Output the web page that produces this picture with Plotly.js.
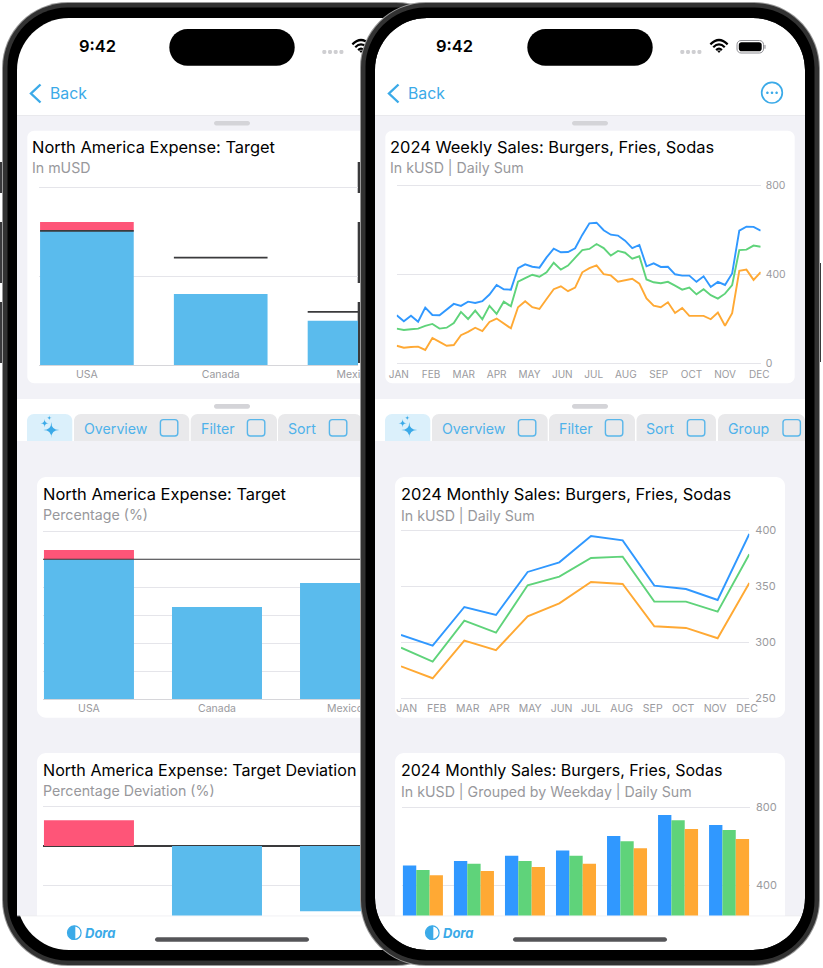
<!DOCTYPE html>
<html><head><meta charset="utf-8">
<script src="https://cdn.plot.ly/plotly-3.0.1.min.js"></script>
<style>html,body{margin:0;padding:0;background:#fff;overflow:hidden}#c{width:823px;height:968px}</style>
</head><body><div id="c"></div>
<script>
const W=823,H=968;
const BURGER='#3098FF',FRIES='#5FD37A',SODA='#FFA934',SKY='#5ABBED',PINK='#FE5578',INK='#3A3A3C',GRID='#E5E5EA',AXIS='#D6D6DA',TICK='#9A9A9E',LINK='#3BAAE8';
const FONT='Inter, "Noto Sans", sans-serif';

const countries=['USA','Canada','Mexico'];
const expenseWithin=[151,80,50];
const expenseOver=[10,0,0];
const expenseTarget=[151,121,60];
const pctWithin=[100,65.9,83];
const pctOver=[6.6,0,0];
const pctTarget=[100,100];
const pctTargetX=[-0.36,2.12];
const devOver=[6.6,0,0];
const devUnder=[0,-34,-16.7];

const months=['JAN','FEB','MAR','APR','MAY','JUN','JUL','AUG','SEP','OCT','NOV','DEC'];
const weeklyMonthTicks=[0.3,4.8,9.4,14,18.6,23.2,27.6,32.1,36.7,41.3,46,50.8];
const monthlyMonthTicks=[0.18,1.13,2.11,3.11,4.08,5.07,6,6.97,7.95,8.91,9.92,10.93];
const weeklyBurgers=[216,189,214,187,250,217,216,240,267,258,277,271,279,309,352,333,331,428,445,434,430,476,515,499,500,517,577,629,632,598,578,574,551,518,532,436,449,433,434,400,394,394,366,391,343,366,352,404,596,614,613,596];
const weeklyFries=[156,150,153,156,168,177,156,160,181,231,199,237,198,258,222,277,256,367,383,398,389,409,452,421,439,473,509,514,536,518,484,505,497,470,481,377,364,360,366,349,331,340,310,333,306,291,313,352,509,511,529,524];
const weeklySodas=[79,70,73,75,60,114,96,79,82,126,141,160,145,186,201,177,157,252,279,252,244,289,333,346,324,340,409,428,440,401,395,367,372,380,358,292,259,252,274,226,249,213,213,213,198,228,169,225,416,421,375,410];
const monthlyBurgers=[306.5,297,331.5,324.4,362.8,371.4,394.9,391,350.6,347.6,337.8,396.7];
const monthlyFries=[295.2,282.7,319.3,308.6,350.9,358.6,375.3,376.5,336.3,336.3,327.4,378.6];
const monthlySodas=[278.6,267.9,301.5,292.9,323.2,334.8,353.9,352.1,314.3,312.8,303.6,353];
const weekdays=['Mon','Tue','Wed','Thu','Fri','Sat','Sun'];
const weekdayBurgers=[502,525,552,579,653,761,709];
const weekdayFries=[479,511,525,552,626,733,684];
const weekdaySodas=[451,473,494,511,590,689,638];

const seq=n=>Array.from({length:n},(_,i)=>i);
const X=x=>x/W, Y=y=>1-y/H, dx=(a,b)=>[a/W,b/W], dy=(top,bot)=>[1-bot/H,1-top/H];
const pt=(x,y)=>X(x)+' '+Y(y);
function rr(x0,y0,x1,y1,r,tl=1,tr=1,br=1,bl=1){
  const k=r*0.448, a=[];
  a.push('M'+pt(x0+r*tl,y0),'L'+pt(x1-r*tr,y0));
  if(tr)a.push('C'+pt(x1-k,y0)+' '+pt(x1,y0+k)+' '+pt(x1,y0+r));
  a.push('L'+pt(x1,y1-r*br));
  if(br)a.push('C'+pt(x1,y1-k)+' '+pt(x1-k,y1)+' '+pt(x1-r,y1));
  a.push('L'+pt(x0+r*bl,y1));
  if(bl)a.push('C'+pt(x0+k,y1)+' '+pt(x0,y1-k)+' '+pt(x0,y1-r));
  a.push('L'+pt(x0,y0+r*tl));
  if(tl)a.push('C'+pt(x0,y0+k)+' '+pt(x0+k,y0)+' '+pt(x0+r,y0));
  return a.join(' ')+' Z';
}
const shapes=[],ann=[];
function fill(path,color,layer='below'){shapes.push({type:'path',xref:'paper',yref:'paper',path,fillcolor:color,line:{width:0},layer});}
function stroke(path,color,w,fc){shapes.push({type:'path',xref:'paper',yref:'paper',path,fillcolor:fc||'rgba(0,0,0,0)',line:{color,width:w},layer:'below'});}
function txt(text,x,y,size,color,o={}){const left=!o.xanchor;ann.push(Object.assign({text,x:X(left?x-1.5:x),y:Y(y),xref:'paper',yref:'paper',xanchor:'left',yanchor:'middle',showarrow:false,borderpad:0,font:{family:FONT,size,color}},o));}
function star(cx,cy,r,c){fill('M'+pt(cx,cy-r)+' Q'+pt(cx,cy)+' '+pt(cx+r,cy)+' Q'+pt(cx,cy)+' '+pt(cx,cy+r)+' Q'+pt(cx,cy)+' '+pt(cx-r,cy)+' Q'+pt(cx,cy)+' '+pt(cx,cy-r)+' Z',c);}
function circle(cx,cy,r){return rr(cx-r,cy-r,cx+r,cy+r,r);}

function phone(ox,tabs,right){
  const sx0=17+ox,sx1=447+ox;
  // side buttons
  for(const [a,b] of [[162,193],[222,283],[302,363]]) fill(rr(ox-0.3,a,ox+4,b,0,0,0,0,0),'#3A3A3C');
  if(right) fill(rr(ox+458,263,ox+463,362,0,0,0,0,0),'#3A3A3C');
  const body=[rr(2+ox,2,462+ox,966,66),rr(3+ox,3,461+ox,965,65),rr(7.5+ox,7.5,456.5+ox,960.5,60)];
  // body
  const lay=right?'above':'below';
  const hole=' '+rr(sx0,18,sx1,950,52);
  const addBody=(p,c)=>shapes.push({type:'path',xref:'paper',yref:'paper',path:p+(right?hole:''),fillcolor:c,fillrule:'evenodd',line:{width:0},layer:lay});
  addBody(body[0],'#9A9A9A');addBody(body[1],'#323232');addBody(body[2],'#000000');
  // screen
  fill(rr(sx0,18,sx1,950,52),'#FFFFFF');
  fill(rr(sx0,115,sx1,399,0,0,0,0,0),'#F2F2F7');
  fill(rr(sx0,115,sx1,115.7,0,0,0,0,0),'#E6E6EA');
  fill(rr(sx0,441,sx1,915.5,0,0,0,0,0),'#F2F2F7');
  fill(rr(sx0,915.5,sx1,916.2,0,0,0,0,0),'#E6E6EA');
  // island, status
  fill(rr(169.3+ox,29,294.7+ox,65.7,18.3),'#000000');
  txt('9:42',97+ox,46,16.5,'#000',{xanchor:'center',font:{family:FONT,size:16.5,color:'#000',weight:600}});
  for(let i=0;i<4;i++) fill(rr(322.3+ox+i*5.7,50,326.3+ox+i*5.7,54,1.4),'#CFCFD2');
  // wifi
  const wx=361+ox,wy=53;
  for(const [r,w] of [[4,2.2],[8,2.2],[12,2.2]]) shapes.push({type:'path',xref:'paper',yref:'paper',path:'M'+pt(wx-r*0.72,wy-r*0.72)+' Q'+pt(wx,wy-r*1.44)+' '+pt(wx+r*0.72,wy-r*0.72),line:{color:'#000',width:w},layer:'below'});
  fill('M'+pt(wx-2,wy-2.4)+' L'+pt(wx+2,wy-2.4)+' L'+pt(wx,wy)+' Z','#000');
  // battery
  stroke(rr(379+ox,40.5,405.5+ox,53,4),'#8E8E93',1);
  fill(rr(380.8+ox,42.2,403.7+ox,51.3,2.6),'#000');
  fill(rr(406.3+ox,44.8,407.6+ox,48.8,0.6),'#A0A0A4');
  // back
  shapes.push({type:'path',xref:'paper',yref:'paper',path:'M'+pt(40.5+ox,84.5)+' L'+pt(31+ox,93.5)+' L'+pt(40.5+ox,102.5),line:{color:LINK,width:2.4},layer:'below'});
  txt('Back',50.6+ox,94,15.8,LINK);
  // grabbers
  fill(rr(214+ox,121,250+ox,125.4,2.2),'#D4D4D8');
  fill(rr(214+ox,404,250+ox,408.7,2.2),'#D4D4D8');
  // tabs
  fill(rr(27+ox,414,72.3+ox,441,7,1,1,0,0),'#DBF0FB');
  star(51.3+ox,430,8,LINK);star(44.6+ox,423.3,4.2,LINK);star(49.3+ox,417.8,2.6,LINK);
  for(const t of tabs){
    fill(rr(t.a+ox,414,t.b+ox,441,7,1,1,0,0),'#E9E9EB');
    txt(t.s,t.tx+ox,428,14.2,'#4FB2EA');
    stroke(rr(t.cb+ox,419.6,t.cb+17.4+ox,436,3),'#58B6EA',1.4);
  }
  // Dora
  const lx=74.3+ox,ly=932.7;
  stroke(circle(lx,ly,6.8),LINK,1.2,'#FFF');
  fill('M'+pt(lx+1,ly-7)+' L'+pt(lx+1,ly+7)+' C'+pt(lx-9,ly+8)+' '+pt(lx-9,ly-8)+' '+pt(lx+1,ly-7)+' Z',LINK);
  txt('<i><b>Dora</b></i>',85+ox,933,13,LINK);
  fill(rr(155+ox,937.2,309+ox,941.8,2.3),'#555558');
}
function card(x0,y0,x1,y1,r){fill(rr(x0,y0,x1,y1,r),'#FFFFFF');}

// left phone
phone(0,[{a:74,b:189.3,s:'Overview',tx:84,cb:160.4},{a:190.7,b:277,s:'Filter',tx:201,cb:247.4},{a:278,b:362,s:'Sort',tx:288,cb:329.4}],false);
card(27.3,130.7,437,383.3,7);card(37,477,437,717.7,9);fill(rr(37,753,437,915.5,9,1,1,0,0),'#FFF');
// right phone
phone(358,[{a:74,b:189.7,s:'Overview',tx:84,cb:160.4},{a:191,b:277,s:'Filter',tx:201.3,cb:247.4},{a:278.5,b:358,s:'Sort',tx:288.7,cb:329.4},{a:360,b:447,s:'Group',tx:370.3,cb:425}],true);
card(385.3,130.7,794.7,383.3,7);card(395,477,785,717.7,9);fill(rr(395,753,785,915.5,9,1,1,0,0),'#FFF');

// titles
const T='#000',S='#98989C',TS=16.45,SS=14.2;
txt('North America Expense: Target',32,147,TS,T);txt('In mUSD',32,168,SS,S);
txt('North America Expense: Target',43.5,494,TS,T);txt('Percentage (%)',43.5,515,SS,S);
txt('North America Expense: Target Deviation',43.5,770,16.1,T);txt('Percentage Deviation (%)',43.5,791,SS,S);
txt('2024 Weekly Sales: Burgers, Fries, Sodas',390.5,147,TS,T);txt('In kUSD | Daily Sum',390.5,168,SS,S);
txt('2024 Monthly Sales: Burgers, Fries, Sodas',401.5,494,TS,T);txt('In kUSD | Daily Sum',401.5,515,SS,S);
txt('2024 Monthly Sales: Burgers, Fries, Sodas',401.5,770,16,T);txt('In kUSD | Grouped by Weekday | Daily Sum',401.5,791,SS,S);
// ellipsis
stroke(circle(772,92.7,10.3),LINK,1.7);
for(const d of [-4.6,0,4.6]) fill(circle(772+d,92.7,1.3),LINK);

// bars and lines
const traces=[];
function bar(x,y,color,ax,width,offset,base){traces.push({type:'bar',x,y,base,width,offset,marker:{color,line:{width:0}},xaxis:'x'+ax,yaxis:'y'+ax,hoverinfo:'skip'});}
function line(x,y,color,ax,w){traces.push({type:'scatter',mode:'lines',x,y,line:{color,width:w,shape:'linear'},xaxis:'x'+ax,yaxis:'y'+ax,hoverinfo:'skip',cliponaxis:false});}
const idx3=seq(3);
bar(idx3,expenseWithin,SKY,1,0.7,-0.35);
bar(idx3,expenseOver,PINK,1,0.7,-0.35,expenseWithin);
traces.push({type:'scatter',mode:'markers',x:idx3,y:expenseTarget,marker:{size:0.1,color:INK},error_x:{type:'constant',value:0.35,color:INK,thickness:1.8,width:0},xaxis:'x1',yaxis:'y1',hoverinfo:'skip'});
bar(idx3,pctWithin,SKY,2,0.703,-0.3515);
bar(idx3,pctOver,PINK,2,0.703,-0.3515,pctWithin);
traces.push({type:'scatter',mode:'lines',x:pctTargetX,y:pctTarget,line:{color:INK,width:1.1},xaxis:'x2',yaxis:'y2',hoverinfo:'skip'});
bar(idx3,devOver,PINK,3,0.703,-0.3515);
bar(idx3,devUnder,SKY,3,0.703,-0.3515);
const wk=seq(52);
line(wk,weeklyBurgers,BURGER,4,1.9);line(wk,weeklyFries,FRIES,4,1.9);line(wk,weeklySodas,SODA,4,1.9);
const mo=seq(12);
line(mo,monthlyBurgers,BURGER,5,1.9);line(mo,monthlyFries,FRIES,5,1.9);line(mo,monthlySodas,SODA,5,1.9);
const gw=0.2614;
bar(seq(7),weekdayBurgers,BURGER,6,gw,-1.5*gw);
bar(seq(7),weekdayFries,FRIES,6,gw,-0.5*gw);
bar(seq(7),weekdaySodas,SODA,6,gw,0.5*gw);

function xa(domain,range,tickvals,ticktext,anchor,showline,std,fs){return {domain,range,tickmode:'array',tickvals,ticktext,anchor,showgrid:false,zeroline:false,showline:!!showline,linecolor:AXIS,linewidth:1,ticks:'',showticklabels:!!ticktext,ticklabelstandoff:std||0,tickangle:0,fixedrange:true,tickfont:{family:FONT,size:fs||10.5,color:TICK}};}
function ya(domain,range,tickvals,anchor,labels,std,fs){return {domain,range,tickmode:'array',tickvals,ticktext:tickvals.map(String),anchor,side:'right',showgrid:true,gridcolor:GRID,gridwidth:1,zeroline:false,showline:false,ticks:'',showticklabels:!!labels,ticklabelstandoff:std||0,fixedrange:true,tickfont:{family:FONT,size:fs||11,color:TICK}};}

const layout={width:W,height:H,margin:{l:0,r:0,t:0,b:0,pad:0},paper_bgcolor:'#FFFFFF',plot_bgcolor:'rgba(0,0,0,0)',showlegend:false,barmode:'overlay',dragmode:false,hovermode:false,shapes,annotations:ann,font:{family:FONT},
 xaxis:xa(dx(39,358),[-0.358,2.026],idx3,countries,'y',true,-1),
 yaxis:ya(dy(185.3,365.3),[0,202.25],[0,100,200],'x'),
 xaxis2:xa(dx(43,360),[-0.359,2.117],idx3,countries,'y2',true,-1),
 yaxis2:ya(dy(529.3,699.3),[0,121.43],[0,20,40,60,80,100,120],'x2'),
 xaxis3:xa(dx(43,361),[-0.359,2.125],idx3,null,'y3',false),
 yaxis3:Object.assign(ya(dy(805,915.5),[-17.82,10.51],[-10,0,10],'x3'),{zeroline:true,zerolinecolor:INK,zerolinewidth:1.1}),
 xaxis4:xa(dx(396.7,760.7),[0,51],weeklyMonthTicks,months,'y4',false,2,10),
 yaxis4:ya(dy(183.3,365.3),[-8.99,808.99],[0,400,800],'x4',true,4,10.5),
 xaxis5:xa(dx(401,749.3),[0,11],monthlyMonthTicks,months,'y5',false,0),
 yaxis5:ya(dy(528.3,700.3),[248.214,401.786],[250,300,350,400],'x5',true,5),
 xaxis6:xa(dx(402,750),[-0.41,6.41],seq(7),null,'y6',false),
 yaxis6:ya(dy(805.3,915.5),[245,810.3],[400,800],'x6',true,5)
};
Plotly.newPlot('c',traces,layout,{staticPlot:true,displayModeBar:false});
</script></body></html>
